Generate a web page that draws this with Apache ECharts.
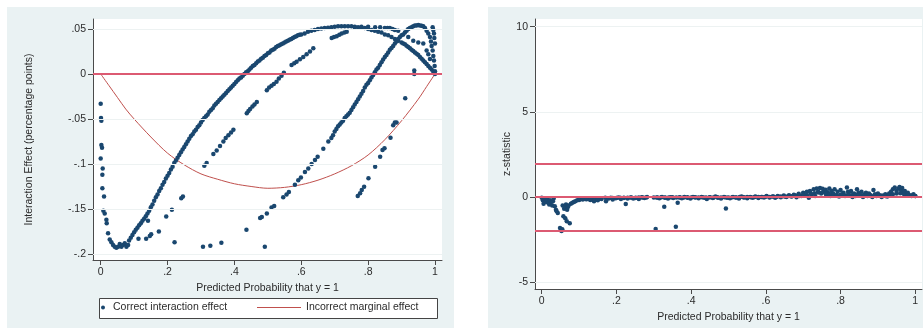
<!DOCTYPE html>
<html><head><meta charset="utf-8">
<script src="https://cdn.jsdelivr.net/npm/echarts@6/dist/echarts.min.js"></script>
<style>html,body{margin:0;padding:0;background:#fff}#c{width:923px;height:329px}</style>
</head><body><div id="c"></div>
<script>
// ---------- tick labels / reference values ----------
const xTicks = [0, 0.2, 0.4, 0.6, 0.8, 1];
const leftYTicks = [-0.2, -0.15, -0.1, -0.05, 0, 0.05];
const rightYTicks = [-5, 0, 5, 10];
const leftRefLines = [0];
const rightRefLines = [1.96, 0, -1.96];
const seriesNames = ['Correct interaction effect', 'Incorrect marginal effect'];

// ---------- left panel: incorrect marginal effect ----------
const marginalX = [0, 0.025, 0.05, 0.075, 0.1, 0.15, 0.2, 0.25, 0.3, 0.35, 0.4, 0.45, 0.5, 0.55, 0.6, 0.65, 0.7, 0.75, 0.8, 0.85, 0.9, 0.95, 0.975, 1];
const marginalY = [0, -0.013, -0.026, -0.039, -0.050, -0.070, -0.088, -0.101, -0.111, -0.117, -0.122, -0.125, -0.127, -0.126, -0.123, -0.118, -0.111, -0.102, -0.090, -0.073, -0.052, -0.028, -0.014, 0];

// ---------- left panel: correct interaction effect points ----------
const ieColumn = [[0.000,-0.033],[0.001,-0.049],[0.002,-0.052],[0.002,-0.079],[0.004,-0.082],[0.000,-0.094],[0.006,-0.105],[0.005,-0.112],[0.005,-0.127],[0.010,-0.136],[0.008,-0.152],[0.012,-0.155],[0.017,-0.162],[0.018,-0.166],[0.022,-0.177],[0.027,-0.184],[0.032,-0.187],[0.037,-0.190],[0.042,-0.192],[0.047,-0.193],[0.052,-0.192],[0.057,-0.189],[0.062,-0.192],[0.067,-0.190],[0.072,-0.188],[0.077,-0.192],[0.082,-0.190]];
const ieCurveA = [[0.085,-0.185],[0.090,-0.182],[0.095,-0.179],[0.100,-0.176],[0.105,-0.173],[0.110,-0.171],[0.115,-0.168],[0.120,-0.166],[0.125,-0.163],[0.130,-0.161],[0.135,-0.158],[0.140,-0.155],[0.145,-0.152],[0.150,-0.148],[0.155,-0.145],[0.160,-0.141],[0.165,-0.137],[0.170,-0.134],[0.175,-0.130],[0.180,-0.127],[0.185,-0.123],[0.190,-0.120],[0.195,-0.116],[0.200,-0.113],[0.205,-0.110],[0.210,-0.106],[0.215,-0.103],[0.220,-0.099],[0.225,-0.096],[0.230,-0.093],[0.235,-0.090],[0.240,-0.087],[0.245,-0.084],[0.250,-0.081],[0.255,-0.078],[0.260,-0.075],[0.265,-0.072],[0.270,-0.069],[0.275,-0.067],[0.280,-0.064],[0.285,-0.062],[0.290,-0.059],[0.295,-0.057],[0.300,-0.054],[0.305,-0.051],[0.31,-0.049],[0.315,-0.047],[0.32,-0.045],[0.325,-0.042],[0.33,-0.040],[0.335,-0.038],[0.34,-0.035],[0.345,-0.033],[0.35,-0.031],[0.355,-0.029],[0.36,-0.027],[0.365,-0.025],[0.37,-0.023],[0.375,-0.021],[0.38,-0.019],[0.385,-0.017],[0.39,-0.015],[0.395,-0.013],[0.40,-0.011],[0.405,-0.009],[0.41,-0.007],[0.415,-0.005],[0.42,-0.004],[0.425,-0.002],[0.43,0.000],[0.435,0.002],[0.44,0.003],[0.445,0.005],[0.45,0.007],[0.455,0.009],[0.46,0.010],[0.465,0.012],[0.47,0.014],[0.475,0.015],[0.48,0.017],[0.485,0.018],[0.49,0.020],[0.495,0.021],[0.50,0.023],[0.505,0.024],[0.51,0.026],[0.515,0.027],[0.52,0.028],[0.525,0.030],[0.53,0.031],[0.535,0.032],[0.54,0.033],[0.545,0.034],[0.55,0.035],[0.555,0.036],[0.56,0.037],[0.565,0.038],[0.57,0.039],[0.575,0.040],[0.58,0.041],[0.585,0.042],[0.59,0.043],[0.595,0.0435],[0.60,0.044],[0.61,0.045],[0.62,0.047],[0.63,0.048],[0.64,0.049],[0.65,0.050],[0.66,0.0505],[0.67,0.051],[0.68,0.0515],[0.69,0.052],[0.70,0.0525],[0.71,0.053],[0.72,0.053],[0.73,0.053],[0.74,0.053],[0.75,0.053],[0.76,0.0525],[0.77,0.052],[0.78,0.0515],[0.79,0.051],[0.80,0.050],[0.81,0.049],[0.82,0.048],[0.83,0.047],[0.84,0.046],[0.85,0.044],[0.86,0.043],[0.87,0.041],[0.88,0.039],[0.89,0.037],[0.90,0.035],[0.905,0.034],[0.91,0.033],[0.915,0.0315],[0.92,0.030],[0.925,0.0285],[0.93,0.027],[0.935,0.0255],[0.94,0.024],[0.945,0.0225],[0.95,0.021],[0.955,0.019],[0.96,0.017],[0.965,0.015],[0.97,0.013],[0.975,0.011],[0.98,0.009],[0.985,0.007],[0.99,0.005],[0.995,0.0025],[1.00,0.000]];
const ieCurveB = [[0.436,-0.173],[0.477,-0.160],[0.482,-0.159],[0.497,-0.155],[0.511,-0.1485],[0.519,-0.1467],[0.546,-0.137],[0.556,-0.134],[0.563,-0.131],[0.581,-0.123],[0.591,-0.118],[0.599,-0.115],[0.611,-0.109],[0.621,-0.105],[0.631,-0.100],[0.641,-0.0956],[0.649,-0.092],[0.666,-0.083],[0.681,-0.075],[0.69,-0.071],[0.695,-0.068],[0.70,-0.064],[0.705,-0.061],[0.71,-0.058],[0.715,-0.056],[0.72,-0.054],[0.725,-0.052],[0.73,-0.049],[0.735,-0.047],[0.74,-0.045],[0.745,-0.043],[0.75,-0.040],[0.755,-0.037],[0.76,-0.034],[0.765,-0.031],[0.77,-0.028],[0.775,-0.025],[0.78,-0.022],[0.785,-0.019],[0.79,-0.015],[0.795,-0.012],[0.80,-0.010],[0.805,-0.007],[0.81,-0.004],[0.815,-0.001],[0.82,0.002],[0.825,0.005],[0.83,0.007],[0.835,0.010],[0.84,0.013],[0.845,0.016],[0.85,0.019],[0.855,0.021],[0.86,0.024],[0.865,0.027],[0.87,0.029],[0.875,0.031],[0.88,0.034],[0.885,0.036],[0.89,0.039],[0.895,0.041],[0.90,0.043],[0.905,0.044],[0.91,0.046],[0.915,0.048],[0.92,0.050],[0.925,0.051],[0.93,0.052],[0.935,0.053],[0.94,0.054],[0.945,0.054],[0.95,0.0545],[0.955,0.054],[0.96,0.0535],[0.965,0.053],[0.97,0.051],[0.975,0.048],[0.98,0.045],[0.985,0.041],[0.988,0.036],[0.99,0.031],[0.993,0.026],[0.995,0.020],[0.997,0.015],[0.999,0.009],[1.0,0.003]];
const ieCurveC = [[0.113,-0.183],[0.136,-0.183],[0.1415,-0.163],[0.147,-0.180],[0.151,-0.178],[0.174,-0.175],[0.196,-0.1585],[0.213,-0.151],[0.221,-0.187],[0.241,-0.138],[0.246,-0.136],[0.306,-0.192],[0.310,-0.102],[0.317,-0.099],[0.328,-0.191],[0.337,-0.089],[0.347,-0.085],[0.357,-0.080],[0.361,-0.1874],[0.367,-0.075],[0.374,-0.071],[0.382,-0.068],[0.390,-0.065],[0.397,-0.062],[0.437,-0.0437],[0.442,-0.041],[0.447,-0.039],[0.454,-0.036],[0.460,-0.034],[0.467,-0.031],[0.497,-0.018],[0.504,-0.015],[0.511,-0.013],[0.518,-0.011],[0.526,-0.0085],[0.533,-0.005],[0.541,-0.002],[0.548,0.0015],[0.571,0.010],[0.579,0.012],[0.586,0.0137],[0.596,0.0163],[0.606,0.019],[0.616,0.022],[0.626,0.025],[0.636,0.0285],[0.691,0.040],[0.698,0.041],[0.706,0.042],[0.714,0.0435],[0.721,0.045],[0.729,0.046],[0.736,0.047],[0.76,0.052],[0.78,0.0525],[0.80,0.0525],[0.821,0.052],[0.836,0.052],[0.850,0.051],[0.858,0.051],[0.865,0.051],[0.873,0.050],[0.880,0.049],[0.890,0.048],[0.920,0.041],[0.935,0.037],[0.950,0.035],[0.965,0.034],[0.975,0.026],[0.980,0.022],[0.985,0.0167]];
const ieCurveD = [[0.491,-0.192],[0.769,-0.1356],[0.776,-0.1326],[0.781,-0.1289],[0.788,-0.1252],[0.801,-0.1159],[0.821,-0.1030],[0.836,-0.0919],[0.843,-0.0844],[0.849,-0.0826],[0.867,-0.0708],[0.875,-0.057],[0.880,-0.054],[0.885,-0.054],[0.911,-0.027],[0.938,0.000],[0.938,0.004],[0.993,0.052],[0.995,0.049],[0.997,0.045],[0.998,0.040],[1.0,0.034]];

// ---------- right panel: z-statistic points ----------
const zScattered = [[0.000,-0.05],[0.003,-0.20],[0.005,-0.40],[0.008,-0.10],[0.010,-0.25],[0.013,-0.30],[0.015,-0.15],[0.018,-0.35],[0.020,-0.45],[0.022,-0.20],[0.025,-0.30],[0.028,-0.50],[0.030,-0.25],[0.032,-0.10],[0.035,-0.55],[0.038,-0.75],[0.040,-0.85],[0.043,-0.95],[0.049,-1.82],[0.053,-2.00],[0.055,-1.90],[0.056,-0.50],[0.058,-1.13],[0.060,-0.70],[0.062,-0.55],[0.063,-1.25],[0.065,-0.45],[0.067,-1.43],[0.068,-0.75],[0.070,-0.60],[0.072,-0.50],[0.075,-1.55],[0.078,-0.40],[0.082,-0.35],[0.086,-0.30],[0.090,-0.25],[0.095,-0.20],[0.100,-0.15],[0.105,-0.12],[0.110,-0.10],[0.118,-0.12],[0.125,-0.10],[0.130,-0.18],[0.135,-0.08],[0.140,-0.25],[0.145,-0.15],[0.150,-0.20],[0.155,-0.10],[0.170,-0.05],[0.172,-0.25],[0.178,-0.10],[0.185,-0.05],[0.190,-0.15],[0.197,-0.08],[0.205,-0.03],[0.212,-0.12],[0.220,-0.05],[0.225,-0.42],[0.230,-0.10],[0.238,-0.03],[0.245,-0.10],[0.252,-0.05],[0.260,-0.12],[0.268,-0.02],[0.275,-0.07],[0.282,0.00],[0.305,-1.88],[0.308,-0.03],[0.315,-0.08],[0.322,0.00],[0.328,-0.58],[0.330,-0.05],[0.338,-0.10],[0.345,-0.02],[0.352,-0.06],[0.359,-1.76],[0.364,-0.35],[0.368,-0.03],[0.375,-0.08],[0.382,0.00],[0.390,-0.05],[0.398,-0.10],[0.405,0.00],[0.412,-0.04],[0.420,-0.08],[0.428,0.00],[0.435,-0.05],[0.442,-0.12],[0.450,-0.02],[0.458,-0.06],[0.465,0.02],[0.472,-0.05],[0.480,-0.10],[0.488,0.00],[0.493,-0.68],[0.496,-0.05],[0.504,-0.08],[0.512,0.00],[0.520,-0.04],[0.528,-0.10],[0.535,0.02],[0.542,-0.04],[0.550,-0.08],[0.558,0.00],[0.565,-0.05],[0.572,0.03],[0.580,-0.06],[0.588,0.00],[0.595,-0.03],[0.602,0.05],[0.610,-0.04],[0.618,0.02],[0.625,-0.05],[0.632,0.05],[0.640,-0.02],[0.648,0.08],[0.655,0.00],[0.662,0.10],[0.668,0.03],[0.675,0.12],[0.682,-0.02],[0.688,0.18],[0.695,0.05],[0.700,0.25],[0.705,0.10],[0.710,0.30],[0.715,-0.05],[0.718,0.35],[0.722,0.15],[0.728,0.45],[0.732,0.05],[0.736,0.50],[0.740,0.30],[0.745,0.52],[0.748,0.20],[0.752,0.48],[0.756,0.35],[0.760,0.42],[0.762,0.10],[0.766,0.28],[0.770,0.50],[0.773,0.05],[0.776,0.35],[0.780,0.20],[0.784,0.45],[0.788,0.10],[0.792,0.30],[0.796,0.02],[0.800,0.40],[0.804,0.15],[0.808,0.25],[0.812,0.05],[0.817,0.55],[0.820,0.30],[0.824,0.10],[0.828,0.35],[0.832,0.00],[0.836,0.20],[0.840,0.05],[0.844,0.45],[0.848,0.25],[0.852,0.10],[0.856,0.30],[0.860,0.00],[0.864,0.15],[0.868,0.25],[0.872,0.05],[0.876,0.20],[0.880,0.10],[0.885,0.00],[0.888,0.40],[0.892,0.15],[0.896,0.05],[0.900,0.20],[0.905,0.10],[0.910,0.00],[0.915,0.08],[0.920,0.15],[0.925,0.02],[0.930,0.20],[0.935,0.30],[0.940,0.45],[0.945,0.55],[0.950,0.35],[0.955,0.50],[0.958,0.58],[0.962,0.40],[0.965,0.52],[0.968,0.25],[0.972,0.35],[0.976,0.15],[0.980,0.25],[0.985,0.10],[0.990,0.05],[0.995,0.15],[1.000,0.05]];
const zBand = [[0.10,-0.18],[0.11,-0.15],[0.12,-0.14],[0.13,-0.15],[0.14,-0.18],[0.15,-0.15],[0.16,-0.12],[0.18,-0.08],[0.19,-0.06],[0.20,-0.07],[0.21,-0.05],[0.22,-0.06],[0.23,-0.05],[0.24,-0.04],[0.25,-0.06],[0.26,-0.04],[0.27,-0.03],[0.28,-0.04],[0.30,-0.03],[0.31,-0.04],[0.32,-0.02],[0.33,-0.03],[0.34,-0.04],[0.35,-0.02],[0.36,-0.03],[0.37,-0.02],[0.38,-0.04],[0.39,-0.02],[0.40,-0.03],[0.41,-0.02],[0.42,-0.04],[0.43,-0.02],[0.44,-0.03],[0.45,-0.02],[0.46,-0.03],[0.47,-0.02],[0.48,-0.04],[0.49,-0.02],[0.50,-0.03],[0.51,-0.02],[0.52,-0.03],[0.53,-0.01],[0.54,-0.02],[0.55,-0.01],[0.56,-0.02],[0.57,0.00],[0.58,-0.01],[0.59,0.00],[0.60,0.01],[0.61,0.00],[0.62,0.02],[0.63,0.01],[0.64,0.03],[0.65,0.02],[0.66,0.05],[0.67,0.04],[0.68,0.08],[0.69,0.06],[0.70,0.12],[0.71,0.10],[0.72,0.18],[0.73,0.22],[0.74,0.26],[0.75,0.25],[0.76,0.22],[0.77,0.15],[0.78,0.12],[0.79,0.10],[0.80,0.12],[0.81,0.10],[0.82,0.12],[0.83,0.10],[0.84,0.12],[0.85,0.10],[0.86,0.08],[0.87,0.10],[0.88,0.08],[0.89,0.07],[0.90,0.08],[0.91,0.07],[0.92,0.06],[0.93,0.10],[0.94,0.15],[0.95,0.20],[0.96,0.22],[0.97,0.15],[0.98,0.10],[0.99,0.08],[1.00,0.06]];

// ---------- build ----------
const FONT = '"Liberation Sans", Arial, sans-serif';
const TXT = '#2b2b2b';
const NAVY = '#1a476f';
const MAROON = '#c0504d';
function fmt(v) {
  const s = String(Math.round(v * 1000) / 1000);
  return s.replace(/^(-?)0\./, '$1.');
}
function xAxisCfg(grid, min, max, gap) {
  return {
    type: 'value', gridIndex: grid, min: min, max: max,
    name: 'Predicted Probability that y = 1', nameLocation: 'middle', nameGap: gap,
    nameTextStyle: { fontFamily: FONT, fontSize: 10.5, color: TXT },
    axisLine: { show: true, onZero: false, lineStyle: { color: '#4a4a4a', width: 1 } },
    axisTick: { show: true, length: 5, customValues: xTicks, lineStyle: { color: '#4a4a4a' } },
    axisLabel: { customValues: xTicks, formatter: fmt, margin: 7, fontFamily: FONT, fontSize: 10.5, color: TXT },
    splitLine: { show: false }
  };
}
function yAxisCfg(grid, min, max, ticks, name, gap) {
  return {
    type: 'value', gridIndex: grid, min: min, max: max,
    name: name, nameLocation: 'middle', nameGap: gap,
    nameTextStyle: { fontFamily: FONT, fontSize: 10.5, color: TXT },
    axisLine: { show: true, onZero: false, lineStyle: { color: '#4a4a4a', width: 1 } },
    axisTick: { show: true, length: 5, customValues: ticks, lineStyle: { color: '#4a4a4a' } },
    axisLabel: { customValues: ticks, formatter: fmt, margin: 7, fontFamily: FONT, fontSize: 10.5, color: TXT },
    splitLine: { show: false }
  };
}
function refMarks(ticks, refs, refColor) {
  const d = [];
  ticks.forEach(t => { if (refs.indexOf(t) < 0) d.push({ yAxis: t, lineStyle: { color: '#edf2f2', width: 1.2, type: 'solid' } }); });
  refs.forEach(r => d.push({ yAxis: r, lineStyle: { color: refColor, width: 1.8, type: 'solid' } }));
  return { silent: true, symbol: ['none', 'none'], label: { show: false }, animation: false, data: d };
}

const chart = echarts.init(document.getElementById('c'), null, { renderer: 'canvas' });
chart.setOption({
  animation: false,
  backgroundColor: '#ffffff',
  graphic: [
    { type: 'rect', z: -10, shape: { x: 7, y: 7, width: 447, height: 321 }, style: { fill: '#eaf2f3' } },
    { type: 'rect', z: -10, shape: { x: 488, y: 7, width: 435, height: 321 }, style: { fill: '#eaf2f3' } },
    { type: 'rect', z: -5, shape: { x: 99.5, y: 298.5, width: 338, height: 20 }, style: { fill: '#ffffff', stroke: '#444', lineWidth: 1 } }
  ],
  grid: [
    { left: 93, top: 19, width: 349, height: 241, show: true, backgroundColor: '#ffffff', borderWidth: 0 },
    { left: 535, top: 19, width: 387, height: 270, show: true, backgroundColor: '#ffffff', borderWidth: 0 }
  ],
  xAxis: [xAxisCfg(0, -0.023, 1.021, 17), xAxisCfg(1, -0.018, 1.018, 16)],
  yAxis: [
    yAxisCfg(0, -0.2067, 0.0611, leftYTicks, 'Interaction Effect (percentage points)', 58),
    yAxisCfg(1, -5.41, 10.45, rightYTicks, 'z-statistic', 20)
  ],
  legend: [
    { data: [{ name: seriesNames[0], icon: 'circle' }], left: 101, top: 302, itemWidth: 10, itemHeight: 4, padding: 0, selectedMode: false,
      textStyle: { fontFamily: FONT, fontSize: 10.5, color: TXT } },
    { data: [{ name: seriesNames[1], icon: 'rect', itemStyle: { color: MAROON } }], left: 257, top: 302, itemWidth: 44, itemHeight: 1, padding: 0, selectedMode: false,
      textStyle: { fontFamily: FONT, fontSize: 10.5, color: TXT } }
  ],
  series: [
    { type: 'line', name: seriesNames[1], xAxisIndex: 0, yAxisIndex: 0, z: 2,
      data: marginalX.map((x, i) => [x, marginalY[i]]), smooth: 0.3, symbol: 'none', showSymbol: false,
      lineStyle: { color: MAROON, width: 1 }, itemStyle: { color: MAROON },
      markLine: refMarks(leftYTicks, leftRefLines, '#dc5a72') },
    { type: 'scatter', name: seriesNames[0], xAxisIndex: 0, yAxisIndex: 0, z: 3,
      data: [].concat(ieColumn, ieCurveA, ieCurveB, ieCurveC, ieCurveD),
      symbolSize: 4.5, itemStyle: { color: NAVY, opacity: 1 } },
    { type: 'line', name: 'refs', xAxisIndex: 1, yAxisIndex: 1, z: 2, data: [], symbol: 'none',
      markLine: refMarks(rightYTicks, rightRefLines, '#dc5a72') },
    { type: 'scatter', name: 'z', xAxisIndex: 1, yAxisIndex: 1, z: 3,
      data: [].concat(zScattered, zBand), symbolSize: 4.5, itemStyle: { color: NAVY, opacity: 1 } }
  ]
});
</script></body></html>
